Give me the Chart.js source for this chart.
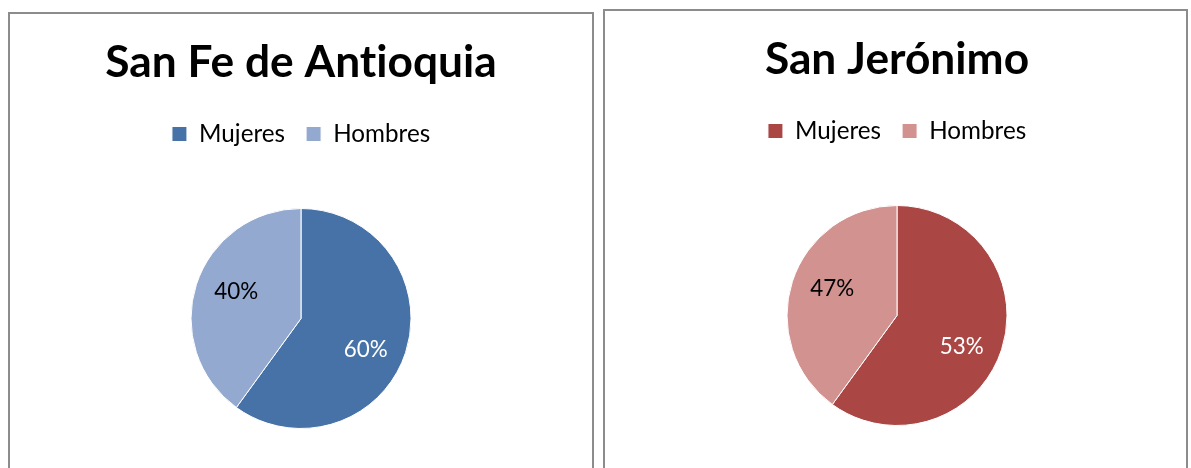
<!DOCTYPE html>
<html><head><meta charset="utf-8">
<script src="https://cdn.jsdelivr.net/npm/chart.js@4/dist/chart.umd.min.js"></script>
<style>
html,body{margin:0;padding:0;background:#fff;width:1191px;height:468px;overflow:hidden;}
.panel{position:absolute;border:2px solid #8c8c8c;box-sizing:border-box;background:#fff;overflow:hidden;}
#p1{left:8px;top:12px;width:586px;height:520px;}
#p2{left:603px;top:9px;width:585px;height:520px;}
.panel canvas{position:absolute;left:0;top:0;}
</style></head><body>
<div class="panel" id="p1"><canvas id="c1"></canvas></div>
<div class="panel" id="p2"><canvas id="c2"></canvas></div>
<script>
// ---- data ----
const categories = ['Mujeres', 'Hombres'];
const antioquiaTitle = 'San Fe de Antioquia';
const antioquiaValues = [60, 40];          // slice sizes as drawn
const antioquiaLabels = ['60%', '40%'];    // printed labels
const jeronimoTitle = 'San Jerónimo';
const jeronimoValues = [60, 40];           // slice sizes as drawn in the picture
const jeronimoLabels = ['53%', '47%'];     // printed labels (as shown)

const antioquiaColors = ['#4672A8', '#94A9CF'];
const jeronimoColors = ['#AA4644', '#D19290'];
const labelTextColors = ['#ffffff', '#000000'];

const FAMILY = 'Lato, "Open Sans", sans-serif';
const mctx = document.createElement('canvas').getContext('2d');
mctx.letterSpacing = '0.01px';
function fit(text, weight, target) {
  mctx.font = weight + ' 100px ' + FAMILY;
  return 100 * target / mctx.measureText(text).width;
}
const titleSize = (fit(antioquiaTitle, 'bold', 392) + fit(jeronimoTitle, 'bold', 264)) / 2;
const legendSize = (fit('Mujeres', 'normal', 86) + fit('Hombres', 'normal', 97)) / 2;
const labelSize = (fit('40%', 'normal', 44) + fit('53%', 'normal', 44)) / 2;

// tiny letter spacing turns off the "ti" ligature of the fallback font
const noLigatures = {
  id: 'noLigatures',
  beforeDraw(chart) { chart.ctx.letterSpacing = '0.01px'; }
};

const pctLabels = {
  id: 'pctLabels',
  afterDatasetsDraw(chart, args, opts) {
    const ctx = chart.ctx;
    const meta = chart.getDatasetMeta(0);
    ctx.save();
    ctx.font = 'normal ' + labelSize + 'px ' + FAMILY;
    ctx.textAlign = 'center';
    ctx.textBaseline = 'middle';
    meta.data.forEach((arc, i) => {
      const p = arc.getProps(['x', 'y', 'startAngle', 'endAngle', 'outerRadius'], true);
      const a = (p.startAngle + p.endAngle) / 2 + opts.nudge * Math.PI / 180;
      const r = p.outerRadius * opts.dist;
      ctx.fillStyle = opts.colors[i];
      ctx.fillText(opts.labels[i], p.x + Math.cos(a) * r, p.y + Math.sin(a) * r + opts.dy);
    });
    ctx.restore();
  }
};

function makeChart(id, w, title, values, colors, labels) {
  const cv = document.getElementById(id);
  cv.width = w; cv.height = 500;
  cv.style.width = w + 'px'; cv.style.height = '500px';
  const lh = titleSize * 1.2;
  const titleTop = 49 - lh / 2;
  const legPad = 21;
  const legendTop = 120 - legPad - legendSize / 2;
  const titleBottom = legendTop - titleTop - lh;
  const legendH = legendSize + legPad + 10;
  const T = legendTop + legendH;
  const B = 2 * 304.5 - T;
  return new Chart(cv, {
    type: 'pie',
    data: {
      labels: categories,
      datasets: [{
        data: values,
        backgroundColor: colors,
        borderColor: '#ffffff',
        borderWidth: 1,
        radius: 110
      }]
    },
    options: {
      responsive: false,
      animation: false,
      layout: { padding: { top: 0, bottom: 500 - B, left: 0, right: 0 } },
      plugins: {
        title: {
          display: true,
          text: title,
          color: '#000',
          font: { family: FAMILY, size: titleSize, weight: 'bold', lineHeight: 1.2 },
          padding: { top: titleTop, bottom: titleBottom }
        },
        legend: {
          display: true,
          position: 'top',
          labels: {
            color: '#000',
            boxWidth: 15, boxHeight: 15,
            padding: legPad,
            font: { family: FAMILY, size: legendSize }
          }
        },
        tooltip: { enabled: false },
        pctLabels: { labels: labels, colors: labelTextColors, dist: 0.645, nudge: 6, dy: 2 }
      }
    },
    plugins: [noLigatures, pctLabels]
  });
}

makeChart('c1', 582, antioquiaTitle, antioquiaValues, antioquiaColors, antioquiaLabels);
makeChart('c2', 584, jeronimoTitle, jeronimoValues, jeronimoColors, jeronimoLabels);
</script>
</body></html>
